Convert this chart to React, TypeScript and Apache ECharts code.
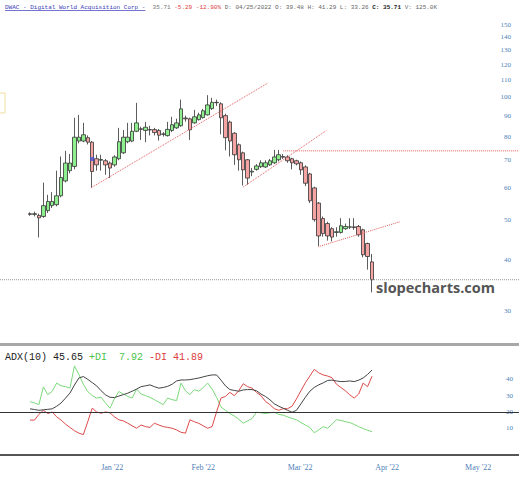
import React, { useEffect, useRef } from "react";
import * as echarts from "echarts";

// ---- price data (daily OHLC) ----
const opens = [51.8, 51.6, 51.3, 51.0, 52.7, 54.2, 54.5, 57.3, 62.3, 66.0, 67.6, 78.0, 78.0, 79.5, 77.5, 70.6, 70.0, 69.8, 68.9, 68.2,
  70.6, 73.0, 77.7, 78.0, 82.4, 83.6, 82.8, 83.2, 83.2, 82.8, 81.0, 80.4, 82.8, 84.0, 85.0, 88.8, 88.4, 86.4, 88.0, 89.0,
  90.4, 93.6, 97.0, 96.2, 90.0, 86.8, 81.5, 76.4, 73.0, 70.2, 65.5, 66.5, 67.5, 67.4, 68.2, 69.0, 70.2, 71.5, 71.3, 70.6,
  69.8, 69.0, 67.4, 64.8, 59.9, 55.0, 50.4, 49.0, 47.6, 46.6, 46.6, 47.6, 48.0, 48.1, 48.2, 47.3, 43.8, 39.48];
const highs = [52.2, 52.4, 51.8, 61.7, 57.6, 58.5, 66.0, 71.5, 73.8, 72.5, 88.9, 90.4, 86.4, 80.5, 78.0, 72.2, 72.2, 70.5, 69.5, 72.0,
  84.0, 83.0, 86.4, 86.4, 96.7, 84.5, 86.9, 85.0, 84.0, 83.5, 82.0, 86.9, 89.4, 88.5, 98.5, 90.0, 89.0, 93.0, 91.5, 93.5,
  101.0, 99.5, 98.5, 97.0, 91.0, 87.5, 82.0, 77.0, 73.5, 70.5, 67.0, 68.5, 70.0, 70.0, 70.5, 74.2, 74.2, 72.5, 72.0, 71.0,
  70.2, 69.5, 68.0, 65.2, 60.3, 55.3, 51.0, 49.5, 48.0, 48.0, 50.5, 49.0, 50.5, 50.5, 48.6, 47.6, 44.0, 41.29];
const lows = [51.2, 51.0, 45.3, 50.6, 52.0, 53.5, 54.0, 56.8, 61.8, 65.0, 66.5, 77.0, 77.5, 76.5, 60.0, 66.0, 66.0, 64.5, 63.3, 67.5,
  70.0, 72.5, 77.0, 77.5, 82.0, 78.5, 77.5, 80.5, 80.5, 78.2, 80.0, 80.0, 82.0, 83.5, 84.5, 87.0, 78.5, 86.0, 87.5, 88.5,
  90.0, 93.0, 95.0, 81.0, 74.0, 71.5, 68.2, 66.0, 60.7, 61.0, 64.0, 66.0, 67.0, 67.0, 67.8, 68.5, 69.5, 70.5, 69.0, 66.5,
  68.0, 64.5, 60.5, 55.0, 49.5, 43.2, 45.5, 44.5, 44.3, 45.5, 46.3, 47.3, 47.5, 47.3, 45.5, 40.5, 37.8, 33.26];
const closes = [51.6, 51.8, 50.6, 54.2, 55.5, 55.5, 57.3, 63.5, 68.9, 68.9, 79.7, 79.7, 80.8, 77.5, 65.7, 68.2, 70.3, 68.2, 67.0, 71.3,
  77.7, 79.7, 79.7, 82.4, 86.4, 83.3, 84.3, 83.0, 81.8, 80.6, 81.2, 83.3, 85.5, 86.4, 93.5, 88.4, 83.1, 89.4, 90.4, 92.5,
  95.6, 97.0, 96.8, 88.9, 79.5, 78.0, 72.2, 70.2, 66.3, 63.3, 65.8, 67.8, 69.0, 69.0, 69.8, 71.3, 72.2, 71.2, 69.8, 69.0,
  68.6, 66.3, 61.5, 55.7, 50.1, 45.7, 46.3, 45.7, 45.4, 46.8, 48.4, 48.2, 48.1, 47.9, 46.0, 41.1, 40.7, 35.71];

// ---- ADX(10) indicator ----
const adx = [21.9, 21.5, 21.0, 21.3, 21.6, 21.9, 23.5, 25.5, 28.5, 31.6, 36.5, 40.8, 41.7, 40.0, 38.0, 36.0, 33.0, 30.5, 29.0, 28.8,
  29.7, 30.6, 31.5, 32.7, 34.0, 35.5, 36.0, 36.6, 35.5, 34.6, 35.0, 35.7, 37.0, 39.0, 39.6, 39.6, 39.8, 40.3, 40.8, 41.5,
  42.2, 42.7, 42.7, 39.5, 36.0, 33.7, 33.2, 32.7, 33.5, 33.7, 33.7, 33.0, 31.0, 29.5, 27.5, 25.0, 23.5, 22.3, 21.0, 19.8,
  21.0, 25.0, 29.0, 32.7, 35.0, 36.6, 37.8, 39.3, 39.5, 39.0, 38.6, 38.7, 39.0, 38.6, 39.5, 40.8, 43.0, 45.65];
const plusDI = [26.3, 25.5, 24.5, 35.3, 30.6, 32.7, 37.7, 36.0, 35.5, 34.6, 48.2, 43.0, 37.0, 32.5, 30.0, 28.5, 29.0, 25.5, 22.3, 28.0,
  32.5, 31.0, 29.5, 28.5, 34.0, 31.0, 30.0, 29.0, 27.5, 26.0, 24.5, 28.5, 27.5, 27.0, 37.7, 33.0, 30.6, 33.7, 32.7, 35.0,
  37.7, 34.0, 29.0, 23.0, 21.0, 19.0, 17.5, 15.5, 13.1, 14.5, 16.0, 19.8, 19.5, 19.0, 19.5, 19.8, 18.5, 18.0, 17.0, 16.0,
  15.2, 13.5, 12.0, 10.5, 7.2, 9.0, 11.0, 10.0, 12.5, 15.2, 14.8, 14.0, 13.5, 12.3, 11.0, 9.8, 8.8, 7.92];
const minusDI = [15.0, 15.0, 18.5, 21.0, 19.0, 20.0, 17.0, 15.0, 12.5, 10.5, 8.5, 7.0, 6.1, 14.0, 22.3, 20.0, 19.2, 20.0, 19.5, 17.0,
  15.2, 14.5, 13.1, 11.5, 10.0, 12.0, 11.0, 10.5, 13.1, 12.0, 11.0, 10.5, 10.0, 9.0, 7.5, 7.0, 15.2, 14.0, 13.0, 11.5,
  10.0, 11.0, 20.0, 28.5, 29.5, 32.0, 30.0, 33.0, 37.3, 35.5, 34.6, 32.0, 30.0, 26.5, 24.5, 22.0, 21.0, 22.0, 22.0, 23.5,
  28.0, 33.0, 37.9, 42.0, 46.1, 44.0, 42.7, 42.0, 41.0, 37.0, 35.0, 33.0, 30.5, 28.5, 31.0, 37.7, 35.5, 41.89];

// ---- axes / annotations ----
const priceTicks = [30, 40, 50, 60, 70, 80, 90, 100, 110, 120, 130, 140, 150];
const adxTicks = [10, 20, 30, 40];
const adxBaseLevel = 20;
const monthLabels = ["Jan '22", "Feb '22", "Mar '22", "Apr '22", "May '22"];
const monthPos = [18.5, 39, 60.8, 80.4, 100.9];
const trendLines = [
  [[13.7, 59.9], [53.6, 108.2]],
  [[48, 60.2], [66.7, 82.7]],
  [[64.9, 43.0], [83.3, 49.5]],
];
const resistanceStart = 57;
const resistancePrice = 73.8;
const lastClose = 35.71;
const blueMarkers = [[14, 70.5]];

const X_MIN = -6.76;
const X_MAX = 110.1;
const P_MIN = 25.0;
const P_MAX = 156;

const L = Math.log;
const serif = "'Liberation Serif', 'DejaVu Serif', serif";
const mono = "'Liberation Mono', 'DejaVu Sans Mono', monospace";
const axisBlue = "#4f7fb8";

export default function App() {
  const ref = useRef<HTMLDivElement>(null);

  useEffect(() => {
    if (!ref.current) return;
    const chart = echarts.init(ref.current, undefined, { renderer: "svg" });
    const idx = opens.map((_, i) => i);
    const candleData = idx.map((i) => [i, L(opens[i]), L(closes[i]), L(lows[i]), L(highs[i])]);

    const redDot = { color: "#e45a5a", type: "dotted" as const, width: 1 };
    const markLines: any[] = trendLines.map((t) => [
      { coord: [t[0][0], L(t[0][1])] },
      { coord: [t[1][0], L(t[1][1])] },
    ]);

    const nearestLabel = (v: number) => {
      let best = 0;
      for (let k = 1; k < monthPos.length; k++) {
        if (Math.abs(monthPos[k] - v) < Math.abs(monthPos[best] - v)) best = k;
      }
      return monthLabels[best];
    };

    const hf = `6px ${mono}`;
    const option: any = {
      animation: false,
      backgroundColor: "#ffffff",
      grid: [
        { left: 0, right: 0, top: 18, height: 325 },
        { left: 0, right: 0, top: 348, height: 107 },
      ],
      xAxis: [
        {
          type: "value", gridIndex: 0, min: X_MIN, max: X_MAX,
          axisLine: { show: false }, axisTick: { show: false }, axisLabel: { show: false }, splitLine: { show: false },
        },
        {
          type: "value", gridIndex: 1, min: X_MIN, max: X_MAX,
          axisLine: { show: false }, axisTick: { show: false }, splitLine: { show: false },
          axisLabel: {
            customValues: monthPos,
            formatter: (v: number) => nearestLabel(v),
            color: axisBlue, fontFamily: serif, fontSize: 8, margin: 8,
          },
        },
      ],
      yAxis: [
        {
          type: "value", gridIndex: 0, position: "right", min: L(P_MIN), max: L(P_MAX),
          axisLine: { show: false }, axisTick: { show: false }, splitLine: { show: false },
          axisLabel: {
            inside: true, customValues: priceTicks.map((p) => L(p)),
            formatter: (v: number) => String(Math.round(Math.exp(v))),
            color: axisBlue, fontFamily: serif, fontSize: 7, margin: 8,
          },
        },
        {
          type: "value", gridIndex: 1, position: "right", min: -6.4, max: 59.2,
          axisLine: { show: false }, axisTick: { show: false }, splitLine: { show: false },
          axisLabel: {
            inside: true, customValues: adxTicks,
            color: axisBlue, fontFamily: serif, fontSize: 7, margin: 6,
          },
        },
      ],
      series: [
        {
          type: "line", xAxisIndex: 0, yAxisIndex: 0, silent: true,
          data: [[X_MIN, L(lastClose)], [X_MAX, L(lastClose)]],
          symbol: "none", lineStyle: { color: "#9a9a9a", type: "dotted", width: 1 },
        },
        {
          type: "line", xAxisIndex: 0, yAxisIndex: 0, silent: true,
          data: [[resistanceStart, L(resistancePrice)], [X_MAX, L(resistancePrice)]],
          symbol: "none", lineStyle: redDot,
        },
        {
          type: "candlestick", xAxisIndex: 0, yAxisIndex: 0, data: candleData,
          encode: { x: 0, y: [1, 2, 3, 4] },
          barWidth: 4,
          itemStyle: {
            color: "#8eef8e", color0: "#f5a3a3",
            borderColor: "#333333", borderColor0: "#333333", borderWidth: 0.8,
          },
          markLine: {
            silent: true, symbol: ["none", "none"], label: { show: false },
            lineStyle: redDot,
            data: markLines,
          },
        },
        {
          type: "scatter", xAxisIndex: 0, yAxisIndex: 0,
          data: blueMarkers.map((m) => [m[0], L(m[1])]),
          symbol: "rect", symbolSize: 4, itemStyle: { color: "#4a55d8" },
        },
        {
          type: "line", xAxisIndex: 1, yAxisIndex: 1, data: idx.map((i) => [i, plusDI[i]]),
          symbol: "none", lineStyle: { color: "#7ad87a", width: 1 },
        },
        {
          type: "line", xAxisIndex: 1, yAxisIndex: 1, data: idx.map((i) => [i, minusDI[i]]),
          symbol: "none", lineStyle: { color: "#dd4a4a", width: 1 },
        },
        {
          type: "line", xAxisIndex: 1, yAxisIndex: 1, data: idx.map((i) => [i, adx[i]]),
          symbol: "none", lineStyle: { color: "#444", width: 1 },
          markLine: {
            silent: true, symbol: ["none", "none"], label: { show: false },
            lineStyle: { color: "#333", type: "solid", width: 1 },
            data: [{ yAxis: adxBaseLevel }],
          },
        },
      ],
      graphic: [
        { type: "rect", shape: { x: 0, y: 343, width: 519, height: 3 }, style: { fill: "#a8a8a8" } },
        { type: "rect", shape: { x: 0, y: 454, width: 519, height: 2 }, style: { fill: "#555" } },
        { type: "rect", shape: { x: -6, y: 93, width: 11, height: 20 }, style: { fill: "none", stroke: "#efe0a0", lineWidth: 1 } },
        {
          type: "text", x: 5, y: 7,
          style: {
            text: "{t|DWAC - Digital World Acquisition Corp -}  {g|35.71} {r|-5.29 -12.90%} {k|D: 04/25/2022 O: 39.48 H: 41.29 L: 33.26} {b|C: 35.71} {k|V: 125.0K}",
            font: hf, textVerticalAlign: "middle",
            rich: {
              t: { fill: "#3a3ab8", font: hf },
              g: { fill: "#777", font: hf },
              r: { fill: "#e04040", font: hf },
              k: { fill: "#666", font: hf },
              b: { fill: "#222", font: `bold ${hf}` },
            },
          },
        },
        { type: "line", shape: { x1: 5, y1: 10.5, x2: 145.4, y2: 10.5 }, style: { stroke: "#3a3ab8", lineWidth: 0.7 } },
        {
          type: "text", x: 5, y: 357,
          style: {
            text: "{k|ADX(10) 45.65} {g|+DI  7.92} {r|-DI 41.89}",
            font: `10px ${mono}`, textVerticalAlign: "middle",
            rich: {
              k: { fill: "#222", font: `10px ${mono}` },
              g: { fill: "#4cc44c", font: `10px ${mono}` },
              r: { fill: "#dd3c3c", font: `10px ${mono}` },
            },
          },
        },
        {
          type: "text", x: 376, y: 287,
          style: { text: "slopecharts.com", fill: "#555", font: `bold 14.5px 'Open Sans', sans-serif`, textVerticalAlign: "middle" },
        },
      ],
    };
    chart.setOption(option);
    return () => chart.dispose();
  }, []);

  return <div ref={ref} style={{ position: "fixed", left: 0, top: 0, width: 519, height: 480 }} />;
}
